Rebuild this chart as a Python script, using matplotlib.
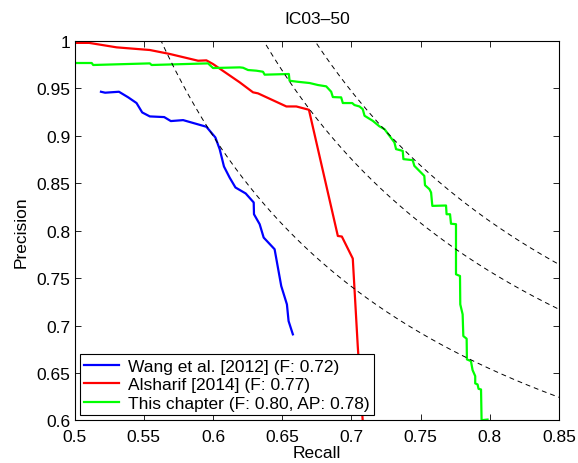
import numpy as np
import matplotlib
matplotlib.use("Agg")
import matplotlib.pyplot as plt

plt.rcParams['font.family'] = ['Liberation Sans', 'DejaVu Sans']

title = "IC03\u201350"
xlabel = "Recall"
ylabel = "Precision"

labels = ["Wang et al. [2012] (F: 0.72)",
          "Alsharif [2014] (F: 0.77)",
          "This chapter (F: 0.80, AP: 0.78)"]

wang_r = [0.519, 0.522, 0.532, 0.5387, 0.5447, 0.5488, 0.5543, 0.5647, 0.5695, 0.5784,
          0.5868, 0.5952, 0.6017, 0.6048, 0.6079, 0.612, 0.6162, 0.6236, 0.6294, 0.6296,
          0.6337, 0.6366, 0.6445, 0.6493, 0.6534, 0.6546, 0.6577]
wang_p = [0.9465, 0.9455, 0.9465, 0.9406, 0.9346, 0.9247, 0.9205, 0.9198, 0.9156, 0.9166,
          0.9131, 0.9096, 0.8983, 0.886, 0.8677, 0.856, 0.8456, 0.8393, 0.8298, 0.8174,
          0.8069, 0.7928, 0.7805, 0.7417, 0.7224, 0.7048, 0.6908]

als_r = [0.500, 0.5105, 0.5303, 0.5543, 0.5688, 0.5892, 0.5952, 0.600, 0.6193, 0.6289,
         0.6325, 0.653, 0.6602, 0.6693, 0.6902, 0.6931, 0.701, 0.7046, 0.7082]
als_p = [0.998, 0.998, 0.9933, 0.9905, 0.9863, 0.9792, 0.9796, 0.9757, 0.9564, 0.9459,
         0.9448, 0.931, 0.931, 0.9275, 0.7945, 0.7939, 0.7707, 0.6784, 0.5993]

ours_r = [0.500, 0.5123, 0.5134, 0.5543, 0.5556, 0.5964, 0.600, 0.6193, 0.6217, 0.6253,
          0.6313, 0.6361, 0.6373, 0.6548, 0.6553, 0.6613, 0.6698, 0.6758, 0.6818, 0.6854,
          0.6866, 0.6914, 0.6926, 0.6938, 0.7006, 0.7022, 0.7058, 0.7082, 0.7095, 0.7154,
          0.7203, 0.7239, 0.7275, 0.7311, 0.7323, 0.7371, 0.7376, 0.7443, 0.7455, 0.7527,
          0.7532, 0.7564, 0.7576, 0.7585, 0.7684, 0.7688, 0.7713, 0.772, 0.7756, 0.7756,
          0.7785, 0.7787, 0.7804, 0.7809, 0.7833, 0.7835, 0.7864, 0.7876, 0.7895, 0.7895,
          0.7912, 0.7919, 0.7937, 0.7941, 0.7984]
ours_p = [0.9768, 0.9768, 0.9747, 0.9764, 0.9747, 0.9764, 0.9715, 0.9722, 0.9718, 0.9694,
          0.9687, 0.9676, 0.9645, 0.9652, 0.9581, 0.957, 0.9557, 0.9536, 0.9522, 0.9465,
          0.9409, 0.9406, 0.9406, 0.9346, 0.9346, 0.9325, 0.931, 0.9282, 0.9212, 0.9159,
          0.910, 0.9071, 0.9001, 0.8931, 0.886, 0.8842, 0.8755, 0.8744, 0.8684, 0.8578,
          0.848, 0.8438, 0.8403, 0.8262, 0.8266, 0.8174, 0.8174, 0.8074, 0.8069, 0.7541,
          0.7523, 0.7224, 0.7119, 0.689, 0.6862, 0.6644, 0.6626, 0.6531, 0.6468, 0.6391,
          0.638, 0.6334, 0.6327, 0.6003, 0.601]

iso_f = [0.72, 0.778, 0.805]

xticks = [0.5, 0.55, 0.6, 0.65, 0.7, 0.75, 0.8, 0.85]
xticklabels = ["0.5", "0.55", "0.6", "0.65", "0.7", "0.75", "0.8", "0.85"]
yticks = [0.6, 0.65, 0.7, 0.75, 0.8, 0.85, 0.9, 0.95, 1.0]
yticklabels = ["0.6", "0.65", "0.7", "0.75", "0.8", "0.85", "0.9", "0.95", "1"]

FS = 12.5

fig = plt.figure(figsize=(5.78, 4.64), dpi=100)
ax = fig.add_axes([0.1292, 0.0916, 0.8378, 0.8179])

ax.plot(wang_r, wang_p, color=(0, 0, 1), lw=1.6, label=labels[0])
ax.plot(als_r, als_p, color=(1, 0, 0), lw=1.6, label=labels[1])
ax.plot(ours_r, ours_p, color=(0, 1, 0), lw=1.6, label=labels[2])

for f in iso_f:
    r = np.linspace(f / 2 + 0.001, 1.0, 800)
    p = f * r / (2 * r - f)
    m = (p <= 1.05) & (p >= 0)
    ax.plot(r[m], p[m], color='black', lw=0.7, ls=(0, (5, 4)))

ax.set_xlim(0.5, 0.85)
ax.set_ylim(0.6, 1.0)
ax.set_xticks(xticks)
ax.set_xticklabels(xticklabels)
ax.set_yticks(yticks)
ax.set_yticklabels(yticklabels)
ax.tick_params(direction='in', top=True, right=True, labelsize=FS, length=4, width=0.6)
ax.tick_params(axis='x', pad=6)
ax.tick_params(axis='y', pad=3)
for s in ax.spines.values():
    s.set_linewidth(0.8)

ax.set_title(title, fontsize=FS, pad=13)
ax.set_xlabel(xlabel, fontsize=FS, labelpad=1)
ax.set_ylabel(ylabel, fontsize=FS, labelpad=6)

leg = ax.legend(loc='lower left', fontsize=FS, frameon=True, fancybox=False,
                edgecolor='black', framealpha=1, borderpad=0.25, labelspacing=0.2,
                handlelength=2.0, handletextpad=0.5, borderaxespad=0.3)
leg.get_frame().set_linewidth(0.8)

fig.savefig("out.png", dpi=100)
